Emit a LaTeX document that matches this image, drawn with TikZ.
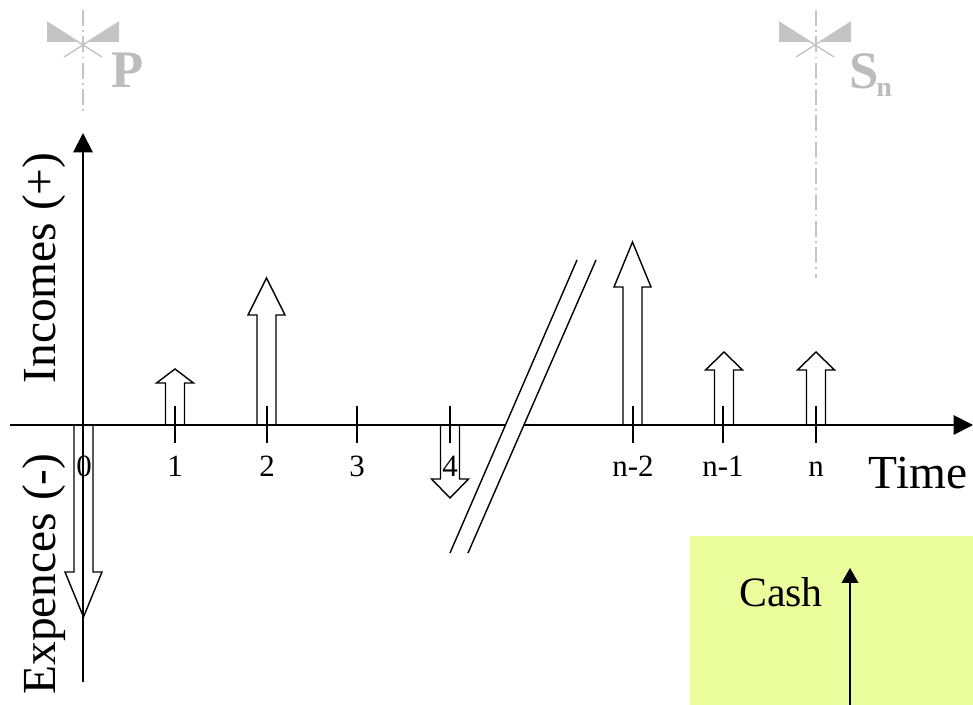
\documentclass[tikz,border=0pt]{standalone}
\usepackage{fontspec}
\setmainfont{Liberation Serif}
\usetikzlibrary{arrows.meta}
\definecolor{cashbg}{RGB}{234,252,156}
\definecolor{markgray}{RGB}{196,196,196}
\definecolor{lettergray}{RGB}{188,188,188}

% hollow cash-flow arrow: centre x, base y, tip y, y of the head base
\newcommand\flowarrow[4]{%
  \draw[hollow] (#1-9.5,#2) -- (#1-9.5,#4) -- (#1-18.5,#4) -- (#1,#3)
    -- (#1+18.5,#4) -- (#1+9.5,#4) -- (#1+9.5,#2);}
% sight mark: two shaded wedges crossed by two thin lines
\newcommand\sightmark[1]{%
  \fill[markgray] (#1-36,22) -- (#1-36,42) -- (#1-5,42) -- cycle;
  \fill[markgray] (#1+36,22) -- (#1+36,42) -- (#1+5,42) -- cycle;
  \draw[markgray, line width=0.8pt] (#1-36,22) -- (#1+19,57);
  \draw[markgray, line width=0.8pt] (#1+36,22) -- (#1-19,57);}

\begin{document}
\begin{tikzpicture}[x=0.02cm, y=-0.02cm,
  hollow/.style={draw=black, fill=white, line width=0.8pt, line join=miter},
  axisline/.style={line width=1.1pt},
  tickmark/.style={line width=1.1pt},
  ticklabel/.style={anchor=base, inner sep=0pt, font=\fontsize{17.6}{20}\selectfont},
  biglabel/.style={anchor=base, inner sep=0pt, font=\fontsize{27}{30}\selectfont},
  centreline/.style={markgray, line width=0.8pt, dash pattern=on 9pt off 2.5pt on 1pt off 2.5pt},
  marklabel/.style={anchor=base, inner sep=0pt, text=lettergray, font=\fontsize{30}{32}\selectfont\bfseries}]
\useasboundingbox (0,0) rectangle (973,705);

% cash legend panel
\fill[cashbg] (690,536) rectangle (973,705);
\node[anchor=base, inner sep=0pt, font=\fontsize{23.8}{26}\selectfont] (cash) at (781,606) {Cash};
\coordinate (cashfoot) at (850,705);
\coordinate (cashtip) at (850,568);
\draw[line width=0.9pt, -{Triangle[length=8.5pt, width=9.5pt]}] (cashfoot) -- (cashtip);

% present and future value marks
\draw[centreline] (83,10) -- (83,113);
\draw[centreline] (816,10) -- (816,278);
\sightmark{83}
\sightmark{815}
\node[marklabel] (P) at (128,88) {P};
\node[marklabel, anchor=base west] (S) at (849,89) {S};
\node[anchor=base west, inner sep=0pt, text=lettergray, font=\fontsize{16}{18}\selectfont\bfseries] (Sn) at (876,97) {n};

% cash flows
\flowarrow{83.5}{425}{617}{572}
\flowarrow{175}{425}{369}{383}
\flowarrow{266.5}{425}{278}{315}
\flowarrow{450}{425}{498}{479}
\flowarrow{632.5}{425}{242}{287}
\flowarrow{724}{425}{352}{370}
\flowarrow{816}{425}{352}{370}

% axes
\coordinate (tstart) at (10,425);
\coordinate (tend) at (973,425);
\coordinate (vbottom) at (83,682);
\coordinate (vtop) at (83,133);
\draw[axisline, -{Triangle[length=11pt, width=11pt]}] (tstart) -- (tend);
\draw[axisline, -{Triangle[length=11pt, width=11pt]}] (vbottom) -- (vtop);

% time ticks
\foreach \tx in {175,267,357,450,633,723,816}
  \draw[tickmark] (\tx,406) -- (\tx,443);

% axis break
\fill[white] (577,260) -- (596,260) -- (468,553) -- (450,553) -- cycle;
\draw[line width=0.8pt] (577,260) -- (450,553);
\draw[line width=0.8pt] (596,260) -- (468,553);

% tick labels
\node[ticklabel] (t0) at (84,477) {0};
\node[ticklabel] (t1) at (175,477) {1};
\node[ticklabel] (t2) at (267,477) {2};
\node[ticklabel] (t3) at (357,477) {3};
\node[ticklabel] (t4) at (450,477) {4};
\node[ticklabel] (tn2) at (633,477) {n-2};
\node[ticklabel] (tn1) at (723,477) {n-1};
\node[ticklabel] (tn) at (816,477) {n};

% axis titles
\node[biglabel] (time) at (918,488) {Time};
\node[biglabel, rotate=90] (incomes) at (55,268) {Incomes (+)};
\node[biglabel, rotate=90] (expences) at (55,574) {Expences (-)};
\end{tikzpicture}
\end{document}
